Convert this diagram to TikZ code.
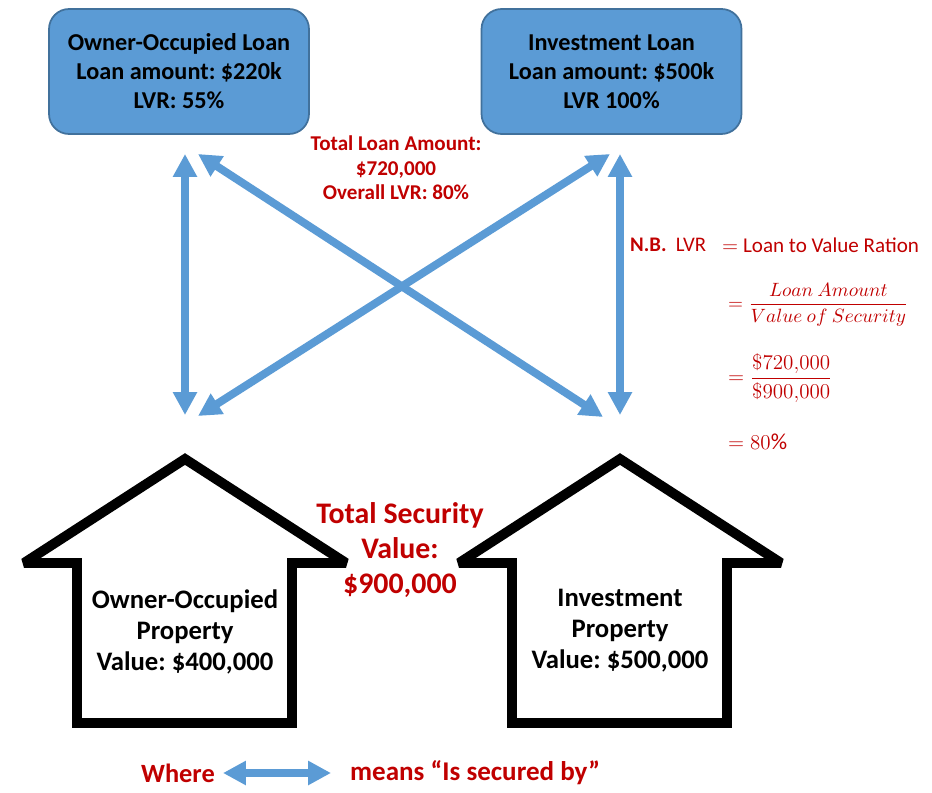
\documentclass[tikz,border=0pt]{standalone}
\usepackage{fontspec}
\setmainfont{Carlito}
\usepackage{amsmath}
\usetikzlibrary{arrows.meta, positioning}
\frenchspacing

\definecolor{loanblue}{HTML}{5B9BD5}
\definecolor{loanedge}{HTML}{41719C}
\definecolor{darkred}{HTML}{C00000}

\tikzset{
	loanbox/.style = {draw = loanedge, fill = loanblue, line width = 1pt, rounded corners = 0.4cm,
		minimum width = 5.2cm, minimum height = 2.5cm, align = center,
		font = \fontsize{13.8}{16.5}\selectfont\bfseries},
	house/.style = {draw = black, fill = white, line width = 5.6pt, line join = miter, miter limit = 2},
	housetext/.style = {align = center, font = \fontsize{15.2}{17.6}\selectfont\bfseries},
	secured/.style = {draw = loanblue, line width = 4.5pt,
		{Triangle[width = 13pt, length = 13pt]}-{Triangle[width = 13pt, length = 13pt]}},
	redtext/.style = {text = darkred, align = center}
}

\begin{document}
\begin{tikzpicture}[x = 0.02cm, y = -0.02cm]
		\useasboundingbox (0,0) rectangle (932,793);
		
		% kredyty
		\node[loanbox] (ooloan) at (179,71.5) {Owner-Occupied Loan\\Loan amount: \$220k\\LVR: 55\%};
		\node[loanbox] (invloan) at (611.5,71.5) {Investment Loan\\Loan amount: \$500k\\LVR 100\%};
		
		\node[redtext, font = \fontsize{12}{14}\selectfont\bfseries] (totloan) at (396,168)
		{Total Loan Amount:\\\$720,000\\Overall LVR: 80\%};
		
		% domy
		\draw[house] (24,563) -- (185,459) -- (346,563) -- (292,563) -- (292,723) -- (77,723) -- (77,563) -- cycle;
		\draw[house] (459,563) -- (620,459) -- (781,563) -- (727,563) -- (727,723) -- (512,723) -- (512,563) -- cycle;
		
		\node[housetext] (ooprop) at (185,632) {Owner-Occupied\\Property\\Value: \$400,000};
		\node[housetext] (invprop) at (620,631) {Investment\\Property\\Value: \$500,000};
		
		\node[redtext, font = \fontsize{17}{20}\selectfont\bfseries] (totsec) at (400,550)
		{Total Security\\Value:\\\$900,000};
		
		% koncowki strzalek
		\coordinate (ooT) at (185,154);
		\coordinate (ooB) at (185,415);
		\coordinate (invT) at (620,154);
		\coordinate (invB) at (620,415);
		\coordinate (ooTd) at (198,154);
		\coordinate (invBd) at (603,417);
		\coordinate (invTd) at (610,154);
		\coordinate (ooBd) at (198,416);
		
		\draw[secured] (ooT) -- (ooB);
		\draw[secured] (invT) -- (invB);
		\draw[secured] (ooTd) -- (invBd);
		\draw[secured] (invTd) -- (ooBd);
		
		% definicja LVR
		\node[text = darkred, anchor = west, font = \fontsize{11.8}{14}\selectfont] (nb) at (624,245)
		{\textbf{N.B.}\ \ LVR};
		\node[text = darkred, anchor = west, font = \fontsize{12}{14}\selectfont] (lvrdef) at (716,245)
		{$=$ Loan to Value Ration};
		\node[text = darkred, anchor = west, font = \fontsize{11}{14}\selectfont] (lvrfrac) at (722,305)
		{$=\dfrac{Loan\ Amount}{Value\ of\ Security}$};
		\node[text = darkred, anchor = west, font = \fontsize{13}{14}\selectfont] (lvrnum) at (722,378)
		{$=\dfrac{\$720{,}000}{\$900{,}000}$};
		\node[text = darkred, anchor = west, font = \fontsize{13}{14}\selectfont] (lvrres) at (722,442)
		{$=80\%$};
		
		% legenda
		\node[redtext, font = \fontsize{15}{18}\selectfont\bfseries] (where) at (178,773) {Where};
		\coordinate (legL) at (223,773);
		\coordinate (legR) at (331,773);
		\draw[secured] (legL) -- (legR);
		\node[redtext, anchor = west, font = \fontsize{15.4}{18}\selectfont\bfseries] (means) at (344,773)
		{means “Is secured by”};
	\end{tikzpicture}
\end{document}
